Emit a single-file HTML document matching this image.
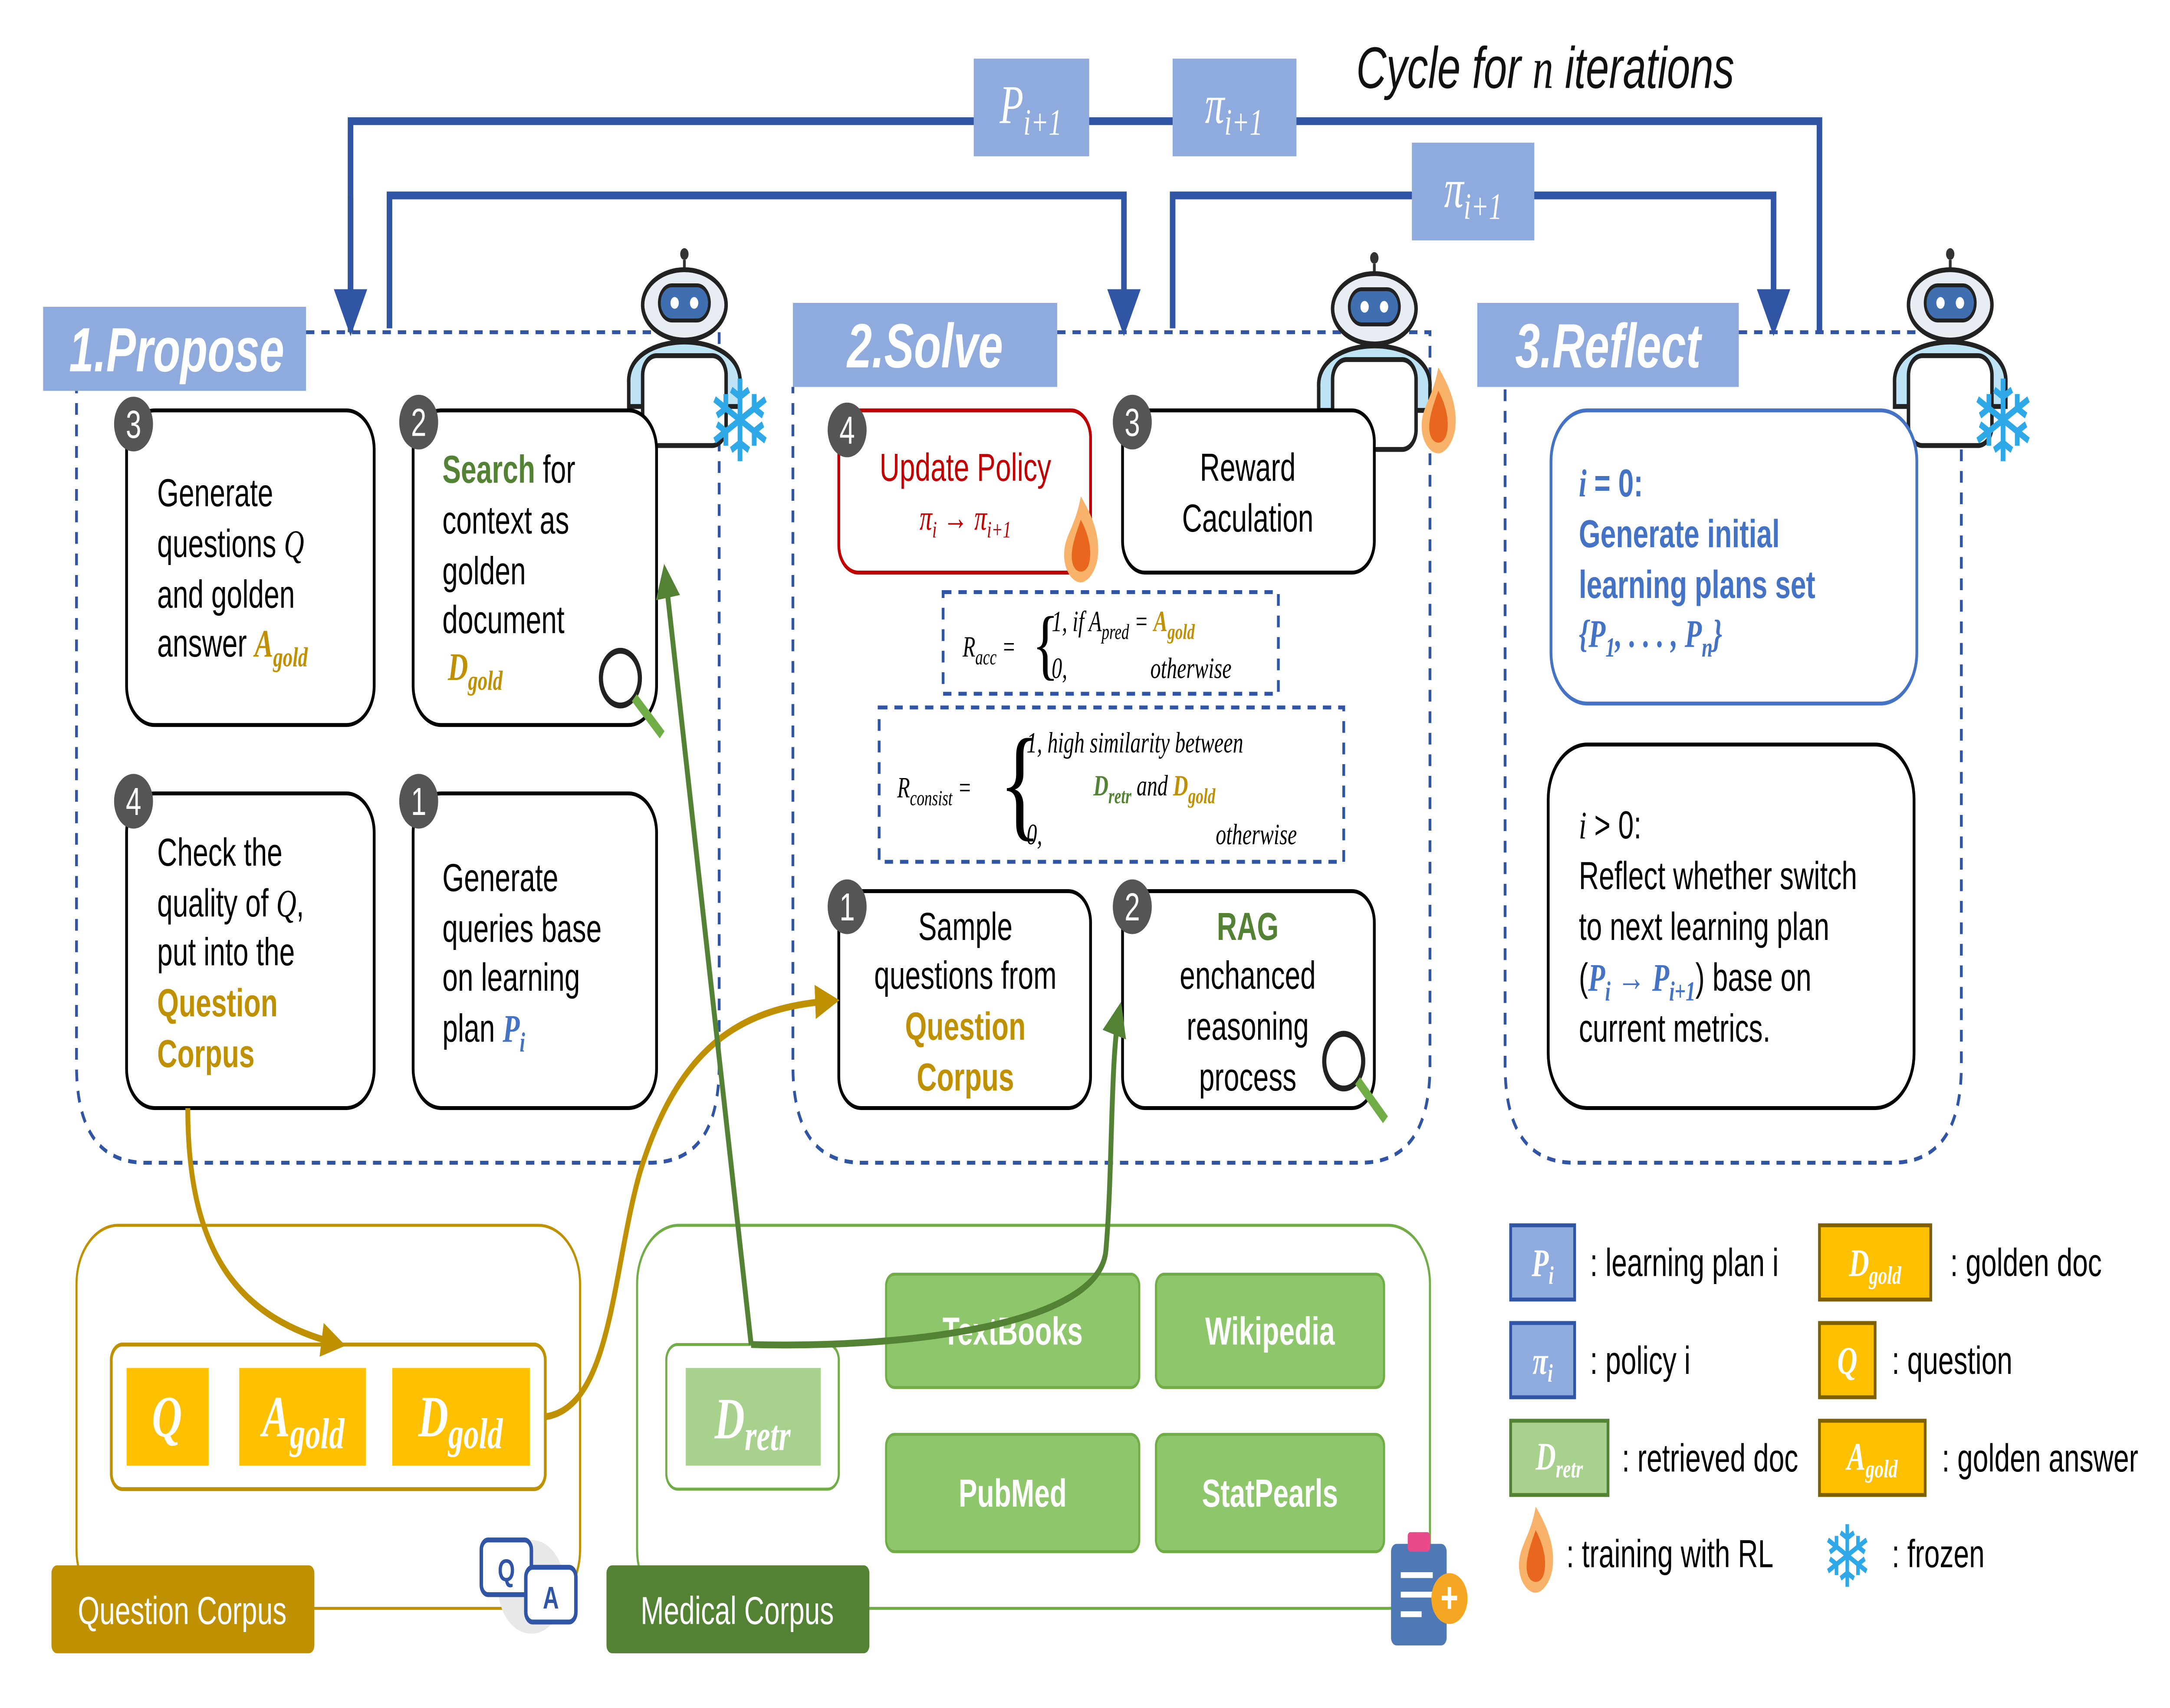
<!DOCTYPE html>
<html><head><meta charset="utf-8"><style>
html,body{margin:0;padding:0;background:#fff;width:100%;height:100%;overflow:hidden;}
svg{display:block;width:100vw;height:100vh;position:absolute;left:0;top:0;}
.t{font-family:"Liberation Sans",sans-serif;}
.m{font-family:"Liberation Serif",serif;font-style:italic;}
</style></head><body>
<svg viewBox="0 0 1560 874" preserveAspectRatio="none" xmlns="http://www.w3.org/2000/svg">
<defs>
<marker id="ab" markerWidth="6" markerHeight="6" refX="3" refY="3" orient="auto" markerUnits="strokeWidth"><path d="M0,0 L6,3 L0,6 z" fill="#2F55A4"/></marker>
<marker id="ag" markerWidth="5" markerHeight="5" refX="4" refY="2.5" orient="auto" markerUnits="strokeWidth"><path d="M0,0 L5,2.5 L0,5 z" fill="#BF9000"/></marker>
<marker id="agr" markerWidth="5" markerHeight="5" refX="4" refY="2.5" orient="auto" markerUnits="strokeWidth"><path d="M0,0 L5,2.5 L0,5 z" fill="#548235"/></marker>
<g id="flame"><path d="M0,-26 C10,-14 14,-4 12,6 C10,14 4,18 0,18 C-6,18 -12,12 -12,4 C-12,-6 -4,-10 0,-26z" fill="#F8B26A"/><path d="M0,-14 C6,-6 8,2 6,8 C4,14 -4,14 -6,8 C-8,2 -4,-6 0,-14z" fill="#E8661E"/></g>
<g id="robot"><circle cx="0" cy="-48" r="3" fill="#333"/><line x1="0" y1="-45" x2="0" y2="-38" stroke="#333" stroke-width="2"/><ellipse cx="0" cy="-22" rx="30" ry="18" fill="#E8EDF4" stroke="#222" stroke-width="2.5"/><rect x="-18" y="-32" width="36" height="18" rx="9" fill="#3F6FB0" stroke="#222" stroke-width="2"/><circle cx="-7" cy="-23" r="3" fill="#fff"/><circle cx="7" cy="-23" r="3" fill="#fff"/><path d="M-40,18 C-42,-10 42,-10 40,18 L40,30 L-40,30z" fill="#BDE3F5" stroke="#222" stroke-width="2.5"/><rect x="-30" y="4" width="60" height="46" rx="10" fill="#fff" stroke="#222" stroke-width="2.5"/></g>
</defs>

<g fill="none" stroke="#2F55A4" stroke-width="4">
<path d="M252,170 L252,62 L1308,62 L1308,170" />
<path d="M252,100 L252,160" marker-end="url(#ab)"/>
<path d="M280,168 L280,100 L808,100 L808,160" marker-end="url(#ab)"/>
<path d="M843,168 L843,100 L1275,100 L1275,160" marker-end="url(#ab)"/>
</g>
<rect x="700" y="30" width="83" height="50" fill="#8FAADC"/>
<text x="741" y="63" class="m" font-size="28" fill="#fff" text-anchor="middle">P<tspan font-size="19" dy="6">i+1</tspan></text>
<rect x="843" y="30" width="89" height="50" fill="#8FAADC"/>
<text x="887" y="63" class="m" font-size="28" fill="#fff" text-anchor="middle">π<tspan font-size="19" dy="6">i+1</tspan></text>
<rect x="1015" y="73" width="88" height="50" fill="#8FAADC"/>
<text x="1059" y="106" class="m" font-size="28" fill="#fff" text-anchor="middle">π<tspan font-size="19" dy="6">i+1</tspan></text>
<text x="975" y="45" class="t" font-size="30" font-style="italic" fill="#111">Cycle for <tspan class="m">n</tspan> iterations</text>

<g fill="none" stroke="#2F55A4" stroke-width="2" stroke-dasharray="6,5">
<path d="M220,170 L517,170 L517,545 Q517,595 467,595 L105,595 Q55,595 55,545 L55,200"/>
<path d="M760,170 L1028,170 L1028,545 Q1028,595 978,595 L620,595 Q570,595 570,545 L570,198"/>
<path d="M1250,170 L1410,170 L1410,545 Q1410,595 1360,595 L1132,595 Q1082,595 1082,545 L1082,198"/>
</g>
<rect x="31" y="157" width="189" height="43" fill="#8FAADC"/>
<text x="127" y="190" class="t" font-size="32" font-weight="bold" font-style="italic" fill="#fff" text-anchor="middle">1.Propose</text>
<rect x="570" y="155" width="190" height="43" fill="#8FAADC"/>
<text x="665" y="188" class="t" font-size="32" font-weight="bold" font-style="italic" fill="#fff" text-anchor="middle">2.Solve</text>
<rect x="1062" y="155" width="188" height="43" fill="#8FAADC"/>
<text x="1156" y="188" class="t" font-size="32" font-weight="bold" font-style="italic" fill="#fff" text-anchor="middle">3.Reflect</text>

<use href="#robot" x="492" y="178"/>
<text x="532" y="236" font-size="58" fill="#2EA8E6" text-anchor="middle" class="t">❄</text>
<use href="#robot" x="988" y="180"/>
<use href="#flame" x="1034" y="214"/>
<use href="#robot" x="1402" y="178"/>
<text x="1440" y="236" font-size="58" fill="#2EA8E6" text-anchor="middle" class="t">❄</text>

<g fill="#fff" stroke="#000" stroke-width="2">
<rect x="91" y="210" width="178" height="161" rx="20"/>
<rect x="297" y="210" width="175" height="161" rx="20"/>
<rect x="91" y="406" width="178" height="161" rx="20"/>
<rect x="297" y="406" width="175" height="161" rx="20"/>
<rect x="807" y="210" width="181" height="83" rx="16"/>
<rect x="603" y="456" width="181" height="111" rx="16"/>
<rect x="807" y="456" width="181" height="111" rx="16"/>
<rect x="1113" y="381" width="263" height="186" rx="28"/>
</g>
<rect x="603" y="210" width="181" height="83" rx="14" fill="#fff" stroke="#C00000" stroke-width="2"/>
<rect x="1115" y="210" width="263" height="150" rx="26" fill="#fff" stroke="#4472C4" stroke-width="2"/>
<g font-size="20" class="t" fill="#fff" text-anchor="middle">
<circle cx="96" cy="217" r="14" fill="#555"/><text x="96" y="224">3</text>
<circle cx="301" cy="216" r="14" fill="#555"/><text x="301" y="223">2</text>
<circle cx="96" cy="410" r="14" fill="#555"/><text x="96" y="417">4</text>
<circle cx="301" cy="410" r="14" fill="#555"/><text x="301" y="417">1</text>
<circle cx="609" cy="220" r="14" fill="#555"/><text x="609" y="227">4</text>
<circle cx="814" cy="216" r="14" fill="#555"/><text x="814" y="223">3</text>
<circle cx="609" cy="464" r="14" fill="#555"/><text x="609" y="471">1</text>
<circle cx="814" cy="464" r="14" fill="#555"/><text x="814" y="471">2</text>
</g>
<g class="t" font-size="20" fill="#000">
<text x="113" y="259">Generate</text>
<text x="113" y="285">questions <tspan class="m">Q</tspan></text>
<text x="113" y="311">and golden</text>
<text x="113" y="336">answer <tspan class="m" font-weight="bold" fill="#BF9000">A<tspan font-size="14" dy="5">gold</tspan></tspan></text>
<text x="318" y="247"><tspan font-weight="bold" fill="#548235">Search</tspan> for</text>
<text x="318" y="273">context as</text>
<text x="318" y="299">golden</text>
<text x="318" y="324">document</text>
<text x="322" y="348" class="m" font-weight="bold" fill="#BF9000">D<tspan font-size="14" dy="5">gold</tspan></text>
<text x="113" y="443">Check the</text>
<text x="113" y="469">quality of <tspan class="m">Q</tspan>,</text>
<text x="113" y="494">put into the</text>
<text x="113" y="520" font-weight="bold" fill="#BF9000">Question</text>
<text x="113" y="546" font-weight="bold" fill="#BF9000">Corpus</text>
<text x="318" y="456">Generate</text>
<text x="318" y="482">queries base</text>
<text x="318" y="507">on learning</text>
<text x="318" y="533">plan <tspan class="m" font-weight="bold" fill="#4472C4">P<tspan font-size="14" dy="5">i</tspan></tspan></text>
<text x="694" y="246" text-anchor="middle" fill="#C00000">Update Policy</text>
<text x="694" y="271" text-anchor="middle" class="m" fill="#C00000" font-size="18">π<tspan font-size="12" dy="4">i</tspan><tspan dy="-4"> → π</tspan><tspan font-size="12" dy="4">i+1</tspan></text>
<text x="897" y="246" text-anchor="middle">Reward</text>
<text x="897" y="272" text-anchor="middle">Caculation</text>
<text x="694" y="481" text-anchor="middle">Sample</text>
<text x="694" y="506" text-anchor="middle">questions from</text>
<text x="694" y="532" text-anchor="middle" font-weight="bold" fill="#BF9000">Question</text>
<text x="694" y="558" text-anchor="middle" font-weight="bold" fill="#BF9000">Corpus</text>
<text x="897" y="481" text-anchor="middle" font-weight="bold" fill="#548235">RAG</text>
<text x="897" y="506" text-anchor="middle">enchanced</text>
<text x="897" y="532" text-anchor="middle">reasoning</text>
<text x="897" y="558" text-anchor="middle">process</text>
<g font-weight="bold" fill="#4472C4">
<text x="1135" y="254"><tspan class="m">i</tspan> = 0:</text>
<text x="1135" y="280">Generate initial</text>
<text x="1135" y="306">learning plans set</text>
<text x="1135" y="331" class="m">{P<tspan font-size="14" dy="5">1</tspan><tspan dy="-5">, . . . , P</tspan><tspan font-size="14" dy="5">n</tspan><tspan dy="-5">}</tspan></text>
</g>
<text x="1135" y="429"><tspan class="m">i</tspan> &gt; 0:</text>
<text x="1135" y="455">Reflect whether switch</text>
<text x="1135" y="481">to next learning plan</text>
<text x="1135" y="507">(<tspan class="m" font-weight="bold" fill="#4472C4">P<tspan font-size="14" dy="5">i</tspan><tspan dy="-5"> → P</tspan><tspan font-size="14" dy="5">i+1</tspan></tspan><tspan dy="-5">) base on</tspan></text>
<text x="1135" y="533">current metrics.</text>
</g>
<use href="#flame" x="777" y="280"/>
<g fill="#fff" stroke="#222" stroke-width="3">
<circle cx="446" cy="347" r="14"/><line x1="456" y1="357" x2="476" y2="376" stroke="#70AD47" stroke-width="5"/>
<circle cx="966" cy="543" r="14"/><line x1="976" y1="553" x2="996" y2="573" stroke="#70AD47" stroke-width="5"/>
</g>

<g fill="none" stroke="#2F55A4" stroke-width="2" stroke-dasharray="6,5">
<rect x="678" y="303" width="241" height="52"/>
<rect x="632" y="362" width="334" height="79"/>
</g>
<g class="m" font-size="15" fill="#000">
<text x="692" y="336">R<tspan font-size="11" dy="4">acc</tspan><tspan dy="-4"> = </tspan></text>
<text x="742" y="343" font-size="40" font-style="normal">{</text>
<text x="756" y="323">1,  if A<tspan font-size="11" dy="4">pred</tspan><tspan dy="-4"> = </tspan><tspan font-weight="bold" fill="#BF9000">A<tspan font-size="11" dy="4">gold</tspan></tspan></text>
<text x="756" y="347">0,</text><text x="827" y="347">otherwise</text>
<text x="645" y="408">R<tspan font-size="11" dy="4">consist</tspan><tspan dy="-4"> = </tspan></text>
<text x="718" y="422" font-size="64" font-style="normal">{</text>
<text x="738" y="385">1,  high similarity between</text>
<text x="786" y="407"><tspan font-weight="bold" fill="#548235">D<tspan font-size="11" dy="4">retr</tspan></tspan><tspan dy="-4"> and </tspan><tspan font-weight="bold" fill="#BF9000">D<tspan font-size="11" dy="4">gold</tspan></tspan></text>
<text x="738" y="432">0,</text><text x="874" y="432">otherwise</text>
</g>

<rect x="55" y="627" width="362" height="196" rx="30" fill="none" stroke="#BF9000" stroke-width="1.5"/>
<rect x="80" y="688" width="312" height="74" rx="8" fill="#fff" stroke="#BF9000" stroke-width="2"/>
<rect x="91" y="700" width="59" height="50" fill="#FFC000"/>
<rect x="172" y="700" width="91" height="50" fill="#FFC000"/>
<rect x="282" y="700" width="99" height="50" fill="#FFC000"/>
<g class="m" font-weight="bold" fill="#fff" font-size="30" text-anchor="middle">
<text x="120" y="735">Q</text>
<text x="218" y="735">A<tspan font-size="22" dy="6">gold</tspan></text>
<text x="331" y="735">D<tspan font-size="22" dy="6">gold</tspan></text>
</g>
<rect x="37" y="801" width="189" height="45" rx="4" fill="#BF9000"/>
<text x="131" y="831" class="t" font-size="20" fill="#fff" text-anchor="middle">Question Corpus</text>

<rect x="458" y="627" width="570" height="196" rx="30" fill="none" stroke="#70AD47" stroke-width="1.5"/>
<rect x="479" y="688" width="124" height="74" rx="8" fill="#fff" stroke="#70AD47" stroke-width="1.5"/>
<rect x="493" y="700" width="97" height="50" fill="#A9D18E"/>
<text x="541" y="736" class="m" font-weight="bold" fill="#fff" font-size="30" text-anchor="middle">D<tspan font-size="22" dy="6">retr</tspan></text>
<g fill="#8DC66B" stroke="#70AD47" stroke-width="1.5">
<rect x="637" y="652" width="182" height="58" rx="6"/>
<rect x="831" y="652" width="164" height="58" rx="6"/>
<rect x="637" y="734" width="182" height="60" rx="6"/>
<rect x="831" y="734" width="164" height="60" rx="6"/>
</g>
<g class="t" font-size="20" font-weight="bold" fill="#fff" text-anchor="middle">
<text x="728" y="688">TextBooks</text><text x="913" y="688">Wikipedia</text>
<text x="728" y="771">PubMed</text><text x="913" y="771">StatPearls</text>
</g>
<rect x="436" y="801" width="189" height="45" rx="4" fill="#548235"/>
<text x="530" y="831" class="t" font-size="20" fill="#fff" text-anchor="middle">Medical Corpus</text>

<ellipse cx="382" cy="812" rx="24" ry="24" fill="#E8E8E8"/>
<rect x="346" y="788" width="36" height="28" rx="5" fill="#fff" stroke="#2F55A4" stroke-width="2.5"/>
<text x="364" y="809" class="t" font-size="16" font-weight="bold" fill="#2F55A4" text-anchor="middle">Q</text>
<rect x="378" y="802" width="36" height="28" rx="5" fill="#fff" stroke="#2F55A4" stroke-width="2.5"/>
<text x="396" y="823" class="t" font-size="16" font-weight="bold" fill="#2F55A4" text-anchor="middle">A</text>
<rect x="1000" y="790" width="40" height="52" rx="4" fill="#4F79B5"/>
<rect x="1012" y="784" width="16" height="10" rx="2" fill="#E84A8A"/>
<g stroke="#fff" stroke-width="3"><line x1="1007" y1="806" x2="1030" y2="806"/><line x1="1007" y1="816" x2="1030" y2="816"/><line x1="1007" y1="826" x2="1022" y2="826"/></g>
<circle cx="1042" cy="818" r="13" fill="#F5A623"/>
<text x="1042" y="825" class="t" font-size="22" font-weight="bold" fill="#fff" text-anchor="middle">+</text>

<g fill="none" stroke-width="3.5">
<path d="M135,567 C135,640 170,675 245,688" stroke="#BF9000" marker-end="url(#ag)"/>
<path d="M392,725 C440,720 440,650 460,600 C490,530 540,515 600,512" stroke="#BF9000" marker-end="url(#ag)"/>
<path d="M540,688 L478,292" stroke="#548235" marker-end="url(#agr)"/>
<path d="M540,688 C640,690 790,680 795,640 C800,600 798,540 805,516" stroke="#548235" marker-end="url(#agr)"/>
</g>

<g class="t" font-size="20" fill="#000">
<rect x="1086" y="627" width="46" height="38" fill="#8FAADC" stroke="#2F55A4" stroke-width="2"/>
<text x="1109" y="653" class="m" font-weight="bold" fill="#fff" font-size="20" text-anchor="middle">P<tspan font-size="13" dy="4">i</tspan></text>
<text x="1143" y="653">: learning plan i</text>
<rect x="1086" y="677" width="46" height="38" fill="#8FAADC" stroke="#2F55A4" stroke-width="2"/>
<text x="1109" y="703" class="m" font-weight="bold" fill="#fff" font-size="20" text-anchor="middle">π<tspan font-size="13" dy="4">i</tspan></text>
<text x="1143" y="703">: policy i</text>
<rect x="1086" y="727" width="70" height="38" fill="#A9D18E" stroke="#548235" stroke-width="2"/>
<text x="1121" y="752" class="m" font-weight="bold" fill="#fff" font-size="20" text-anchor="middle">D<tspan font-size="13" dy="4">retr</tspan></text>
<text x="1166" y="753">: retrieved doc</text>
<use href="#flame" x="1104" y="797"/>
<text x="1126" y="802">: training with RL</text>
<rect x="1308" y="627" width="80" height="38" fill="#FFC000" stroke="#7F6000" stroke-width="2"/>
<text x="1348" y="653" class="m" font-weight="bold" fill="#fff" font-size="20" text-anchor="middle">D<tspan font-size="13" dy="4">gold</tspan></text>
<text x="1402" y="653">: golden doc</text>
<rect x="1308" y="677" width="40" height="38" fill="#FFC000" stroke="#7F6000" stroke-width="2"/>
<text x="1328" y="703" class="m" font-weight="bold" fill="#fff" font-size="20" text-anchor="middle">Q</text>
<text x="1360" y="703">: question</text>
<rect x="1308" y="727" width="76" height="38" fill="#FFC000" stroke="#7F6000" stroke-width="2"/>
<text x="1346" y="752" class="m" font-weight="bold" fill="#fff" font-size="20" text-anchor="middle">A<tspan font-size="13" dy="4">gold</tspan></text>
<text x="1396" y="753">: golden answer</text>
<text x="1328" y="812" font-size="44" fill="#2EA8E6" text-anchor="middle">❄</text>
<text x="1360" y="802">: frozen</text>
</g>
</svg>
</body></html>
